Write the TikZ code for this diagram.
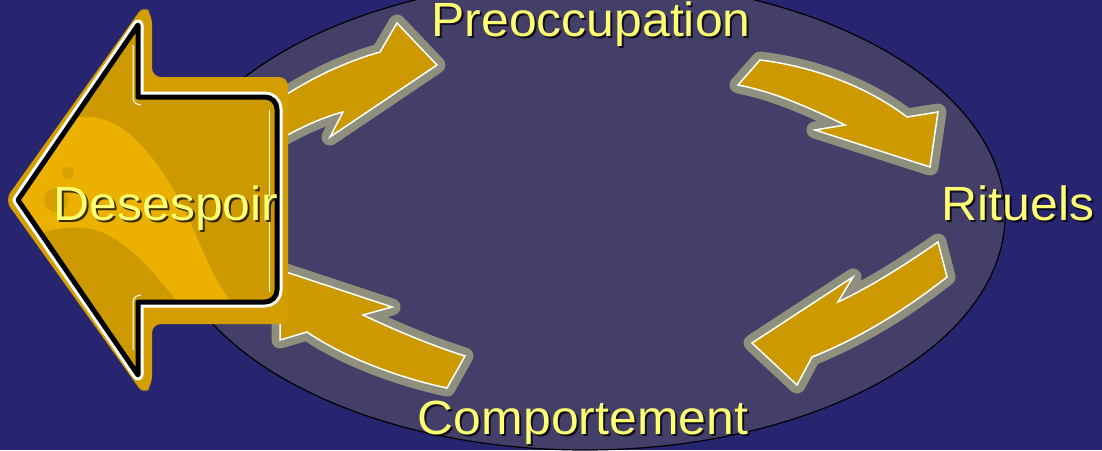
\documentclass[tikz,border=0pt]{standalone}
\usepackage{fontspec}
\setmainfont[FakeStretch=1.04]{Liberation Sans}
\usetikzlibrary{positioning}

\definecolor{bgnavy}{HTML}{282570}
\definecolor{ovalfill}{HTML}{433F68}
\definecolor{gold}{HTML}{CC9900}
\definecolor{goldrim}{HTML}{D49E00}
\definecolor{goldlight}{HTML}{EBB000}
\definecolor{golddot}{HTML}{D6A000}
\definecolor{rimgray}{HTML}{8F8F7D}
\definecolor{txtyellow}{HTML}{FFFF73}

\tikzset{
	cycarrow/.style={fill=gold, draw=white, line width=1.5pt, line join=miter,
		preaction={draw=rimgray, line width=17pt, line join=round}},
	word/.style={font=\fontsize{48}{58}\selectfont, text=txtyellow, inner sep=0pt, anchor=base},
	wordshadow/.style={word, text=black, text opacity=.75},
}

\begin{document}
\begin{tikzpicture}[x=1pt,y=-1pt]
		\useasboundingbox[fill=bgnavy] (0,0) rectangle (1102,450);
		\draw[fill=ovalfill, line width=1.2pt] (585,215) ellipse [x radius=420, y radius=235];
		
		% the four curved arrows of the cycle
		\draw[cycarrow] (270,105) .. controls (310,78) and (345,62) .. (380,52) -- (397,23) -- (437,65)
		  -- (330,137) -- (343,112) .. controls (320,118) and (295,130) .. (270,145) -- cycle;
		\draw[cycarrow] (760,60) .. controls (810,66) and (865,85) .. (907,117) -- (938,112) -- (930,167)
		  -- (815,130) -- (845,125) .. controls (810,108) and (775,92) .. (738,85) -- cycle;
		\draw[cycarrow] (938,242) .. controls (905,265) and (870,287) .. (838,302) -- (853,277) -- (752,343)
		  -- (797,385) -- (812,357) .. controls (860,338) and (905,310) .. (947,277) -- cycle;
		\draw[cycarrow] (465,356) .. controls (430,345) and (395,330) .. (363,315) -- (392,307) -- (280,270)
		  -- (280,340) -- (307,332) .. controls (345,358) and (400,378) .. (447,388) -- cycle;
		
		\node[wordshadow] (pre-s) at (593,38) {Preoccupation};
		\node[word] (pre) at (591,36) {Preoccupation};
		\node[wordshadow] (rit-s) at (1020,222) {Rituels};
		\node[word] (rit) at (1018,220) {Rituels};
		\node[wordshadow] (com-s) at (585,436) {Comportement};
		\node[word] (com) at (583,434) {Comportement};
		
		% big arrow on the left
		\fill[goldrim, rounded corners=9] (5,200) -- (144,5) -- (152,15) -- (152,77) -- (288,77) -- (288,324)
		  -- (152,324) -- (152,385) -- (144,395) -- cycle;
		\draw[white, line width=11pt, line join=round] (18,200) -- (138,25) -- (138,97) [rounded corners=12] -- (277,97)
		  -- (277,302) [sharp corners] -- (138,302) -- (138,375) -- cycle;
		\fill[gold] (18,200) -- (138,25) -- (138,97) [rounded corners=12] -- (277,97)
		  -- (277,302) [sharp corners] -- (138,302) -- (138,375) -- cycle;
		\begin{scope}
			\clip (18,200) -- (138,25) -- (138,97) [rounded corners=12] -- (277,97)
			  -- (277,302) [sharp corners] -- (138,302) -- (138,375) -- cycle;
			\fill[goldlight] (15,117) -- (83,117) .. controls (120,114) and (150,150) .. (175,192)
			  .. controls (195,226) and (212,285) .. (240,312) -- (185,312) .. controls (160,280) and (125,232) .. (85,228)
			  .. controls (65,226) and (45,230) .. (15,242) -- cycle;
			\fill[golddot] (68,173) circle (6) (56,200) circle (12);
		\end{scope}
		\draw[white, line width=1pt] (133,45) -- (133,98) to[out=-90,in=180] (141,105);
		\draw[white, line width=1pt] (133,350) -- (133,302) to[out=90,in=180] (141,295);
		\draw[white, line width=1pt] (269,110) -- (269,292);
		\draw[black, line width=5pt, line join=round] (18,200) -- (138,25) -- (138,97) [rounded corners=12] -- (277,97)
		  -- (277,302) [sharp corners] -- (138,302) -- (138,375) -- cycle;
		
		\node[wordshadow] (des-s) at (168,222) {Desespoir};
		\node[word] (des) at (166,220) {Desespoir};
\end{tikzpicture}
\end{document}
